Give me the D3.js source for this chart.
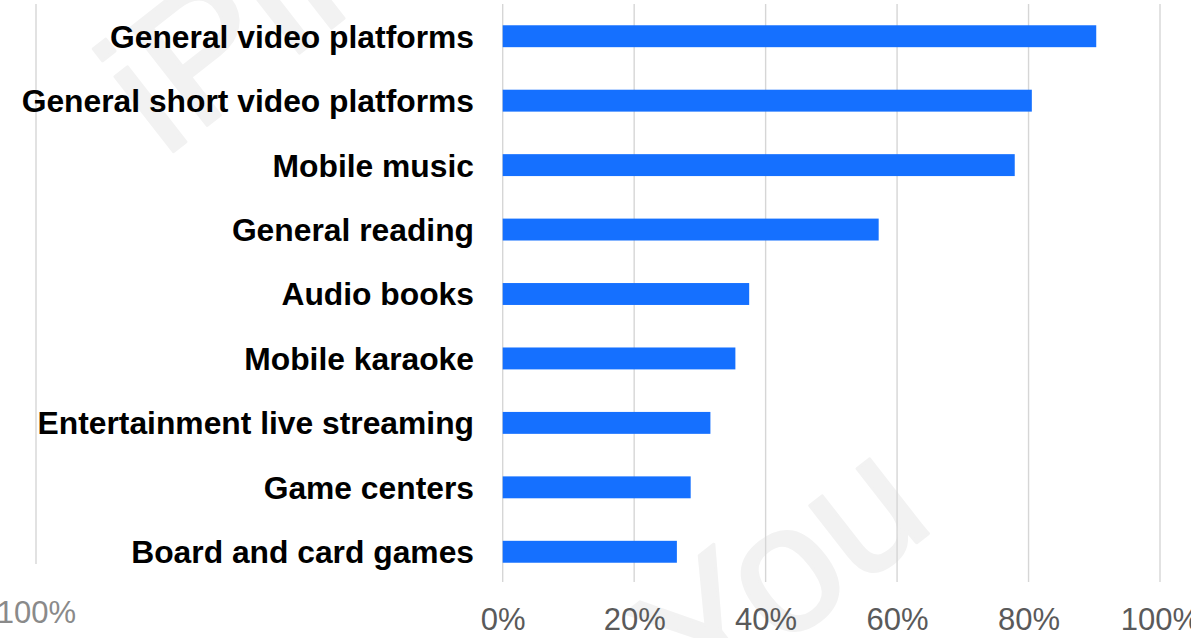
<!DOCTYPE html>
<html>
<head>
<meta charset="utf-8">
<script src="https://cdn.jsdelivr.net/npm/d3@7"></script>
<style>
  html, body { margin: 0; padding: 0; background: #fff; }
  svg { display: block; }
</style>
</head>
<body>
<svg id="chart" width="1191" height="638"></svg>
<script>
// Usage share by app category (%)
const categories = [
  "General video platforms",
  "General short video platforms",
  "Mobile music",
  "General reading",
  "Audio books",
  "Mobile karaoke",
  "Entertainment live streaming",
  "Game centers",
  "Board and card games"
];
const values = [90.3, 80.5, 77.9, 57.2, 37.5, 35.4, 31.6, 28.6, 26.5];
const xTicks = [0, 20, 40, 60, 80, 100];
const mirrorTicks = [100];
const watermarkText = "iPinYou";

const W = 1191, H = 638;
const svg = d3.select("#chart");

const x = d3.scaleLinear().domain([0, 100]).range([502.7, 1160]);
// mirrored companion axis on the left edge
const xMirror = d3.scaleLinear().domain([0, 100]).range([693.3, 36]);
const y = d3.scaleBand().domain(categories).range([4, 584])
  .paddingInner(0.66).paddingOuter(0.33);

// watermark
const wm = svg.append("g").attr("class", "watermark");
[[164, 159], [462, 898]].forEach(([wx, wy]) => {
  wm.append("text")
    .attr("transform", `translate(${wx},${wy}) rotate(-38)`)
    .attr("font-family", "Liberation Sans, Arial, sans-serif")
    .attr("font-size", 180)
    .attr("fill", "#f2f2f2")
    .attr("stroke", "#f2f2f2")
    .attr("stroke-width", 3)
    .attr("stroke-linejoin", "round")
    .text(watermarkText);
});

// gridlines
svg.append("g").selectAll("line").data(xTicks).join("line")
  .attr("x1", d => x(d)).attr("x2", d => x(d))
  .attr("y1", 4).attr("y2", 582)
  .attr("stroke", "#d6d6d6").attr("stroke-width", 1.4);

svg.append("g").selectAll("line").data(mirrorTicks).join("line")
  .attr("x1", d => xMirror(d)).attr("x2", d => xMirror(d))
  .attr("y1", 4).attr("y2", 564)
  .attr("stroke", "#d6d6d6").attr("stroke-width", 1.4);

// bars
svg.append("g").selectAll("rect").data(values).join("rect")
  .attr("x", x(0))
  .attr("y", (d, i) => y(categories[i]))
  .attr("width", d => x(d) - x(0))
  .attr("height", y.bandwidth())
  .attr("fill", "#1570ff");

// category labels
svg.append("g").selectAll("text").data(categories).join("text")
  .attr("x", 474)
  .attr("y", d => y(d) + y.bandwidth() / 2)
  .attr("dy", "0.36em")
  .attr("text-anchor", "end")
  .attr("font-family", "Liberation Sans, Arial, sans-serif")
  .attr("font-weight", "bold")
  .attr("font-size", 31.8)
  .attr("fill", "#000")
  .text(d => d);

// x-axis tick labels
const xAxis = d3.axisBottom(x).tickValues(xTicks)
  .tickFormat(d => d + "%").tickSize(0).tickPadding(0);
const gx = svg.append("g").attr("transform", "translate(0,608)").call(xAxis);
gx.select(".domain").remove();
gx.selectAll("text")
  .attr("dy", "0.71em")
  .attr("font-family", "Liberation Sans, Arial, sans-serif")
  .attr("font-size", 31)
  .attr("fill", "#5a5a5a");

const mAxis = d3.axisBottom(xMirror).tickValues(mirrorTicks)
  .tickFormat(d => d + "%").tickSize(0).tickPadding(0);
const gm = svg.append("g").attr("transform", "translate(0,601)").call(mAxis);
gm.select(".domain").remove();
gm.selectAll("text")
  .attr("dy", "0.71em")
  .attr("font-family", "Liberation Sans, Arial, sans-serif")
  .attr("font-size", 31)
  .attr("fill", "#8a8a8a");
</script>
</body>
</html>
